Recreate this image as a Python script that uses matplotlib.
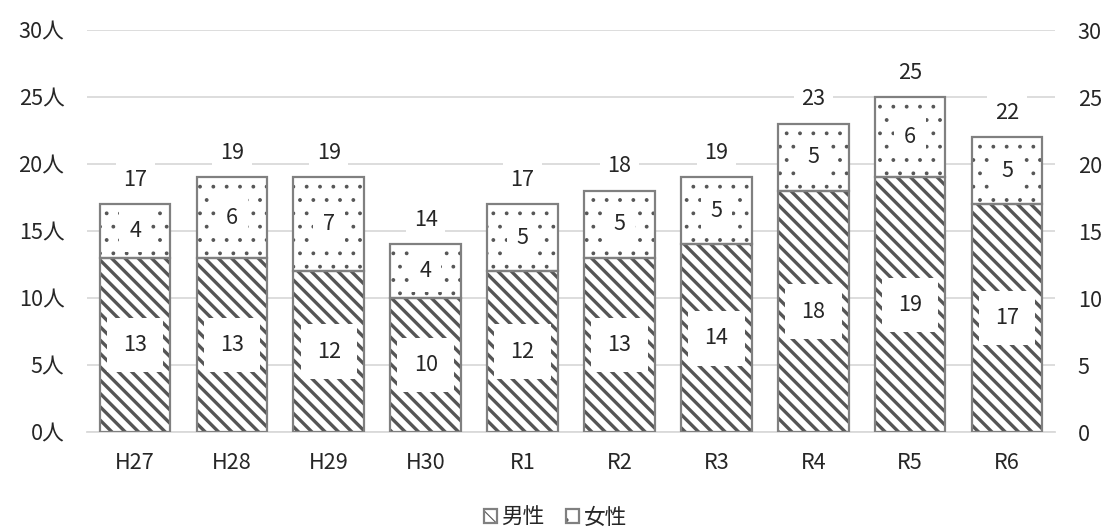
import matplotlib
matplotlib.use("Agg")
import matplotlib.pyplot as plt
import numpy as np

plt.rcParams["font.family"] = ["Noto Sans CJK JP", "DejaVu Sans"]

# ##################### DATA #####################
years = ["H27", "H28", "H29", "H30", "R1", "R2", "R3", "R4", "R5", "R6"]
male = [13, 13, 12, 10, 12, 13, 14, 18, 19, 17]
female = [4, 6, 7, 4, 5, 5, 5, 5, 6, 5]
y_ticks = [0, 5, 10, 15, 20, 25, 30]

totals = [m + f for m, f in zip(male, female)]
x = np.arange(len(years))

# dpi 80 so the hatch spacing comes out close to the original
DPI = 80
fig = plt.figure(figsize=(1111 / DPI, 527 / DPI), dpi=DPI)
ax = fig.add_axes([0.078, 0.180, 0.872, 0.763])

edge = "#808080"
txt = "#262626"
fs = 19.5
w = 0.73

# hatched fills (hatch takes the edge colour), then gray outlines on top
plt.rcParams["hatch.linewidth"] = 3.0
male_bars = ax.bar(x, male, width=w, color="white", edgecolor="#555555",
                   linewidth=0, hatch="\\\\", zorder=2)
plt.rcParams["hatch.linewidth"] = 1.0
female_bars = ax.bar(x, female, bottom=male, width=w, color="white",
                     edgecolor="#555555", linewidth=0, hatch=".", zorder=2)
for b in male_bars:
    if hasattr(b, "set_hatch_linewidth"):
        b.set_hatch_linewidth(3.0)
for b in female_bars:
    if hasattr(b, "set_hatch_linewidth"):
        b.set_hatch_linewidth(1.0)
male_edge = ax.bar(x, male, width=w, fill=False, edgecolor=edge,
                   linewidth=2, zorder=3)
female_edge = ax.bar(x, female, bottom=male, width=w, fill=False,
                     edgecolor=edge, linewidth=2, zorder=3)

# value labels in white boxes
for i in range(len(years)):
    ax.text(x[i], male[i] / 2, str(male[i]), ha="center", va="center",
            fontsize=fs, color=txt, zorder=4,
            bbox=dict(boxstyle="square,pad=0.75", fc="white", ec="none"))
    ax.text(x[i], male[i] + female[i] / 2, str(female[i]), ha="center",
            va="center", fontsize=fs, color=txt, zorder=4,
            bbox=dict(boxstyle="square,pad=0.45", fc="white", ec="none"))
    ax.annotate(str(totals[i]), (x[i], totals[i]), xytext=(0, 22),
                textcoords="offset points", ha="center", va="center",
                fontsize=fs, color=txt, zorder=4,
                bbox=dict(boxstyle="square,pad=0.35", fc="white", ec="none"))

ax.set_xlim(-0.5, len(years) - 0.5)
ax.set_ylim(0, 30)
ax.set_yticks(y_ticks)
ax.set_yticklabels([f"{v}人" for v in y_ticks])
ax.set_xticks(x)
ax.set_xticklabels(years)
ax.grid(axis="y", color="#d9d9d9", linewidth=1.6, zorder=0)
ax.set_axisbelow(True)
for s in ["top", "right", "left"]:
    ax.spines[s].set_visible(False)
ax.spines["bottom"].set_color("#d9d9d9")
ax.spines["bottom"].set_linewidth(1.6)
ax.tick_params(axis="y", length=0, pad=20, labelsize=fs, labelcolor=txt)
ax.tick_params(axis="x", length=0, pad=18, labelsize=fs, labelcolor=txt)

ax2 = ax.twinx()
ax2.set_ylim(0, 30)
ax2.set_yticks(y_ticks)
for s in ax2.spines.values():
    s.set_visible(False)
ax2.tick_params(axis="y", length=0, pad=20, labelsize=fs, labelcolor=txt)

fig.legend(handles=[(male_bars[0], male_edge[0]),
                    (female_bars[0], female_edge[0])],
           labels=["男性", "女性"],
           loc="center", bbox_to_anchor=(0.5, 0.018), ncol=2, frameon=False,
           fontsize=fs, handlelength=0.6, handleheight=0.6,
           handletextpad=0.2, columnspacing=1.0, labelcolor=txt)

fig.savefig("out.png", dpi=DPI)
